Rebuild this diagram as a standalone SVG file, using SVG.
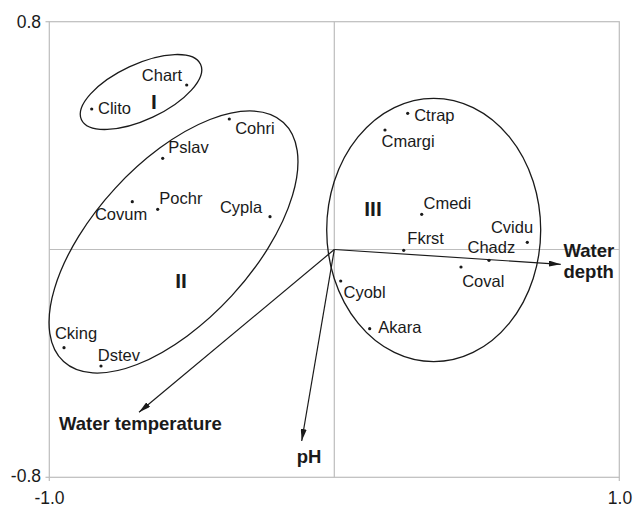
<svg xmlns="http://www.w3.org/2000/svg" width="641" height="510" viewBox="0 0 641 510">
<defs>
<style>
.ax{stroke:#bdbdbd;stroke-width:1.2;fill:none}
.el{stroke:#1a1a1a;stroke-width:1.3;fill:none}
.ar{stroke:#1a1a1a;stroke-width:1.2;fill:none}
.dot{fill:#1a1a1a}
.sp{font-family:"Liberation Sans",Arial,sans-serif;font-size:16.5px;fill:#1a1a1a}
.num{font-family:"Liberation Sans",Arial,sans-serif;font-size:17.5px;fill:#1a1a1a}
.var{font-family:"Liberation Sans",Arial,sans-serif;font-size:18.5px;font-weight:bold;fill:#1a1a1a}
.grp{font-family:"Liberation Sans",Arial,sans-serif;font-size:21px;font-weight:bold;fill:#1a1a1a;text-anchor:middle}
</style>
<marker id="ah" viewBox="0 0 12 6" refX="12" refY="3" markerWidth="12" markerHeight="6" markerUnits="userSpaceOnUse" orient="auto">
<path d="M0,0 L12,3 L0,6 z" fill="#1a1a1a"/>
</marker>
</defs>
<rect width="641" height="510" fill="#ffffff"/>
<g id="axes">
<rect class="ax" x="49.3" y="21.7" width="570" height="455.6"/>
<line class="ax" x1="334.3" y1="21.7" x2="334.3" y2="477.3"/>
<line class="ax" x1="49.3" y1="249.5" x2="619.3" y2="249.5"/>
<line class="ax" x1="45.5" y1="21.7" x2="49.3" y2="21.7"/>
<line class="ax" x1="45.5" y1="477.3" x2="49.3" y2="477.3"/>
<line class="ax" x1="49.3" y1="477.3" x2="49.3" y2="481"/>
<line class="ax" x1="619.3" y1="477.3" x2="619.3" y2="481"/>
<text class="num" x="41" y="27.5" text-anchor="end">0.8</text>
<text class="num" x="41" y="481.5" text-anchor="end">-0.8</text>
<text class="num" x="49.5" y="504" text-anchor="middle">-1.0</text>
<text class="num" x="620" y="504" text-anchor="middle">1.0</text>
</g>
<g id="groups">
<g id="group-I">
<ellipse class="el" cx="141" cy="92" rx="65.7" ry="27.8" transform="rotate(-25 141 92)"/>
<text class="grp" x="154" y="109">I</text>
</g>
<g id="group-II">
<ellipse class="el" cx="173.5" cy="242" rx="162.4" ry="79.3" transform="rotate(-47.4 173.5 242)"/>
<text class="grp" x="181" y="288">II</text>
</g>
<g id="group-III">
<ellipse class="el" cx="433.7" cy="230" rx="107" ry="131.7"/>
<text class="grp" x="373" y="215.7">III</text>
</g>
</g>
<g id="connectors">
<line class="ar" x1="334.3" y1="249.5" x2="560.7" y2="264.3" marker-end="url(#ah)"/>
<line class="ar" x1="334.3" y1="249.5" x2="139" y2="412.3" marker-end="url(#ah)"/>
<line class="ar" x1="334.3" y1="249.5" x2="301.7" y2="441" marker-end="url(#ah)"/>
</g>
<g id="variables">
<g id="var-depth"><text class="var" x="563.5" y="257">Water</text><text class="var" x="563.5" y="278">depth</text></g>
<g id="var-temp"><text class="var" x="59" y="430">Water temperature</text></g>
<g id="var-ph"><text class="var" x="296.7" y="462.7">pH</text></g>
</g>
<g id="species">
<g id="sp-Chart"><circle class="dot" cx="186.7" cy="85" r="1.6"/><text class="sp" x="141.8" y="80.5">Chart</text></g>
<g id="sp-Clito"><circle class="dot" cx="91.7" cy="109" r="1.6"/><text class="sp" x="98" y="114">Clito</text></g>
<g id="sp-Cohri"><circle class="dot" cx="229.3" cy="119" r="1.6"/><text class="sp" x="235.2" y="134">Cohri</text></g>
<g id="sp-Pslav"><circle class="dot" cx="162.7" cy="158.3" r="1.6"/><text class="sp" x="168.3" y="153.3">Pslav</text></g>
<g id="sp-Pochr"><circle class="dot" cx="157.7" cy="209.3" r="1.6"/><text class="sp" x="159.3" y="204">Pochr</text></g>
<g id="sp-Covum"><circle class="dot" cx="132.3" cy="201.7" r="1.6"/><text class="sp" x="94.9" y="220">Covum</text></g>
<g id="sp-Cypla"><circle class="dot" cx="270" cy="216.7" r="1.6"/><text class="sp" x="219.9" y="212.7">Cypla</text></g>
<g id="sp-Cking"><circle class="dot" cx="64" cy="347.7" r="1.6"/><text class="sp" x="54.9" y="339.3">Cking</text></g>
<g id="sp-Dstev"><circle class="dot" cx="101" cy="366" r="1.6"/><text class="sp" x="97.8" y="360.7">Dstev</text></g>
<g id="sp-Ctrap"><circle class="dot" cx="407.7" cy="113.3" r="1.6"/><text class="sp" x="414.2" y="120.7">Ctrap</text></g>
<g id="sp-Cmargi"><circle class="dot" cx="385" cy="130" r="1.6"/><text class="sp" x="381.5" y="146.7">Cmargi</text></g>
<g id="sp-Cmedi"><circle class="dot" cx="421.7" cy="214.3" r="1.6"/><text class="sp" x="423.5" y="209.3">Cmedi</text></g>
<g id="sp-Fkrst"><circle class="dot" cx="403.7" cy="250.3" r="1.6"/><text class="sp" x="407.3" y="244.3">Fkrst</text></g>
<g id="sp-Chadz"><circle class="dot" cx="489" cy="260.3" r="1.6"/><text class="sp" x="467.5" y="253.3">Chadz</text></g>
<g id="sp-Cvidu"><circle class="dot" cx="527.3" cy="242.3" r="1.6"/><text class="sp" x="490.9" y="233.3">Cvidu</text></g>
<g id="sp-Coval"><circle class="dot" cx="461" cy="267" r="1.6"/><text class="sp" x="462.2" y="286.7">Coval</text></g>
<g id="sp-Cyobl"><circle class="dot" cx="340.7" cy="281" r="1.6"/><text class="sp" x="343.5" y="298.3">Cyobl</text></g>
<g id="sp-Akara"><circle class="dot" cx="369.7" cy="328.7" r="1.6"/><text class="sp" x="378.3" y="332.7">Akara</text></g>
</g>
</svg>
